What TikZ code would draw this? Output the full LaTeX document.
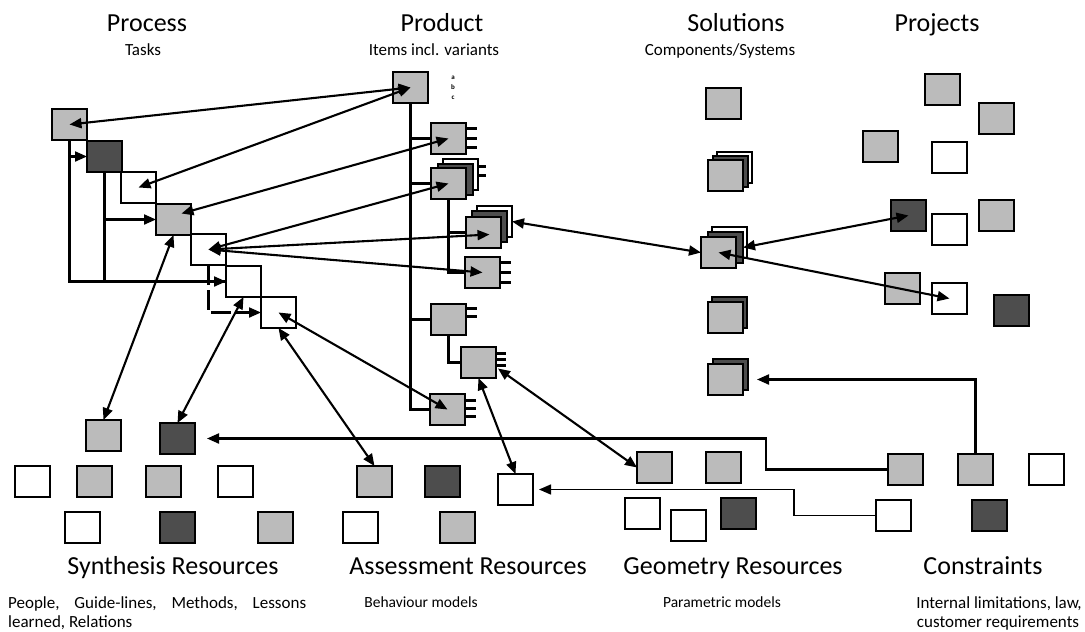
\documentclass[tikz,border=0pt]{standalone}
\usepackage{fontspec}
\setmainfont{Carlito}
\usetikzlibrary{arrows.meta,calc}
\definecolor{bgray}{HTML}{BBBBBB}
\definecolor{bdark}{HTML}{4D4D4D}
\begin{document}
\begin{tikzpicture}[x=1pt,y=-1pt,
  box/.style={draw, line width=2.2pt, minimum width=35pt, minimum height=31pt, inner sep=0pt, outer sep=0pt, anchor=north west},
  gb/.style={box, fill=bgray}, db/.style={box, fill=bdark}, wb/.style={box, fill=white},
  ln/.style={line width=2.1pt},
  arr/.style={ln, -{Triangle[length=12pt,width=10pt]}},
  darr/.style={ln, {Triangle[length=12pt,width=10pt]}-{Triangle[length=12pt,width=10pt]}},
  ttl/.style={font=\fontsize{26}{30}\selectfont, anchor=base, inner sep=0pt},
  sub/.style={font=\fontsize{17}{20}\selectfont, anchor=base, inner sep=0pt},
  smallsub/.style={font=\fontsize{15.5}{18}\selectfont, anchor=base, inner sep=0pt}]
\useasboundingbox (0,0) rectangle (1085,632);

% ---------- Process ----------
\node[gb] (P1) at (52,109) {};
\node[db] (P2) at (87,141) {};
\node[wb] (P3) at (121,172) {};
\node[gb] (P4) at (156,204) {};
\node[wb] (P5) at (191,234) {};
\node[wb] (P6) at (226,266) {};
\node[wb] (P7) at (261,297) {};
\draw[arr] (P1.south) |- (P6.west);
\draw[arr] (P1.south |- P2.west) -- (P2.west);
\draw[ln] (P2.south) |- (P6.west);
\draw[arr] (P2.south) |- (P4.west);
\draw[arr, dash pattern=on 20pt off 5pt] (P5.south) |- (P7.west);

% ---------- Product ----------
\node[gb] (PR0) at (393,72) {};
\node[gb] (PR1) at (431,123) {};
\node[wb] (PR2w) at (443,159) {};
\node[db] (PR2d) at (438,164) {};
\node[gb] (PR2) at (431,168) {};
\node[wb] (PR3w) at (477,206) {};
\node[db] (PR3d) at (472,211) {};
\node[gb] (PR3) at (466,217) {};
\node[gb] (PR4) at (465,257) {};
\node[gb] (PR5) at (431,304) {};
\node[gb] (PR6) at (461,347) {};
\node[gb] (PR7) at (430,394) {};
\node[font=\fontsize{7}{10}\selectfont\bfseries, align=center, inner sep=0pt] (abc) at (453,88) {a\\b\\c};
\draw[ln] (PR0.south) |- (PR7.west);
\draw[ln] (PR0.south |- PR1.west) -- (PR1.west);
\draw[ln] (PR0.south |- PR2.west) -- (PR2.west);
\draw[ln] (PR0.south |- PR5.west) -- (PR5.west);
\draw[ln] (PR2.south) |- (PR4.west);
\draw[ln] (PR2.south |- PR3.west) -- (PR3.west);
\draw[ln] (PR5.south) |- (PR6.west);
\foreach \o in {-10,0,9} \draw[ln] ($(PR1.east)+(0,\o)$) -- ++(11,0);
\foreach \o in {-8,1} \draw[ln] ($(PR2w.east)+(0,\o)$) -- ++(8,0);
\foreach \o in {-10,0,10} \draw[ln] ($(PR4.east)+(0,\o)$) -- ++(11,0);
\foreach \o in {-11,-3} \draw[ln] ($(PR5.east)+(0,\o)$) -- ++(11,0);
\foreach \o in {-9,-3,3} \draw[ln] ($(PR6.east)+(0,\o)$) -- ++(10,0);
\foreach \o in {-9,-1,7} \draw[ln] ($(PR7.east)+(0,\o)$) -- ++(11,0);

% ---------- Solutions ----------
\node[gb] (S1) at (706,88) {};
\node[wb] (S2w) at (717,152) {};
\node[db] (S2d) at (713,156) {};
\node[gb] (S2) at (708,160) {};
\node[wb] (S3w) at (712,227) {};
\node[db] (S3d) at (708,232) {};
\node[gb] (S3) at (701,237) {};
\node[db] (S4d) at (712,297) {};
\node[gb] (S4) at (708,302) {};
\node[db] (S5d) at (713,359) {};
\node[gb] (S5) at (708,364) {};

% ---------- Projects ----------
\node[gb] (J1) at (925,74) {};
\node[gb] (J2) at (979,103) {};
\node[gb] (J3) at (863,131) {};
\node[wb] (J4) at (932,142) {};
\node[db] (J5) at (891,200) {};
\node[wb] (J6) at (932,214) {};
\node[gb] (J7) at (979,200) {};
\node[gb] (J8) at (885,273) {};
\node[wb] (J9) at (932,283) {};
\node[db] (J10) at (994,295) {};

% ---------- Synthesis ----------
\node[gb] (Sy1) at (86,420) {};
\node[db] (SyD) at (160,423) {};
\node[wb] (Sy3) at (15,466) {};
\node[gb] (Sy4) at (77,466) {};
\node[gb] (Sy5) at (146,466) {};
\node[wb] (Sy6) at (218,466) {};
\node[wb] (Sy7) at (65,512) {};
\node[db] (Sy8) at (160,512) {};
\node[gb] (Sy9) at (258,512) {};

% ---------- Assessment ----------
\node[gb] (A1) at (357,466) {};
\node[db] (A2) at (425,466) {};
\node[wb] (A3) at (498,474) {};
\node[wb] (A4) at (343,512) {};
\node[gb] (A5) at (440,512) {};

% ---------- Geometry ----------
\node[gb] (G1) at (637,452) {};
\node[gb] (G2) at (706,452) {};
\node[wb] (G3) at (625,498) {};
\node[wb] (G4) at (671,510) {};
\node[db] (G5) at (721,498) {};

% ---------- Constraints ----------
\node[gb] (C1) at (888,454) {};
\node[gb] (C2) at (958,454) {};
\node[wb] (C3) at (1029,454) {};
\node[wb] (C4) at (876,500) {};
\node[db] (C5) at (972,500) {};

% ---------- Arrows ----------
\draw[darr] (P1.center) -- (PR0.center);
\draw[darr] (P3.center) -- (PR0.center);
\draw[darr] ($(P4.center)+(8,-6)$) -- (PR1.center);
\draw[darr] (P5.center) -- (PR2.center);
\draw[darr] (P5.center) -- ($(PR3.center)+(6,2)$);
\draw[darr] (P5.center) -- (PR4.center);
\draw[darr] (P7.center) -- (PR7.center);

\draw[darr] (P4.south) -- (Sy1.north);
\draw[darr] (P6.south) -- (SyD.north);
\draw[darr] (P7.south) -- (A1.north);
\draw[darr] (PR6.south) -- (A3.north);
\draw[darr] ($(PR6.east)+(2,6)$) -- (G1.west);

\draw[darr] (PR3w.east) -- (S3.west);
\draw[darr] (J5.center) -- (S3d.east);
\draw[darr] (J9.center) -- (S3.center);

\draw[arr, shorten >=14pt] (C2.north) |- (S5.east);
\draw[arr, shorten >=12pt] (C1.west) -- ++(-122,0) |- (SyD.east);
\draw[arr, line width=1.4pt, shorten >=6pt] (C4.west) -- ++(-82,0) |- (A3.east);

% ---------- Texts ----------
\node[ttl] (tProc) at (147,31) {Process};
\node[sub] (sProc) at (143,55) {Tasks};
\node[ttl] (tProd) at (442,31) {Product};
\node[sub] (sProd) at (434,55) {Items incl. variants};
\node[ttl] (tSol) at (736,31) {Solutions};
\node[sub] (sSol) at (720,55) {Components/Systems};
\node[ttl] (tProj) at (937,31) {Projects};

\node[ttl] (tSyn) at (173,574) {Synthesis Resources};
\node[ttl] (tAss) at (468,574) {Assessment Resources};
\node[ttl] (tGeo) at (733,574) {Geometry Resources};
\node[ttl] (tCon) at (983,574) {Constraints};
\node[sub, anchor=base west] (sSyn1) at (8,608) {\hbox to 298pt{People,\hfill Guide-lines,\hfill Methods,\hfill Lessons}};
\node[sub, anchor=base west] (sSyn2) at (8,627) {learned, Relations};
\node[smallsub] (sAss) at (421,607) {Behaviour models};
\node[smallsub] (sGeo) at (722,607) {Parametric models};
\node[sub] (sCon1) at (999,608) {Internal limitations, law,};
\node[sub] (sCon2) at (998,627) {customer requirements};
\end{tikzpicture}
\end{document}
